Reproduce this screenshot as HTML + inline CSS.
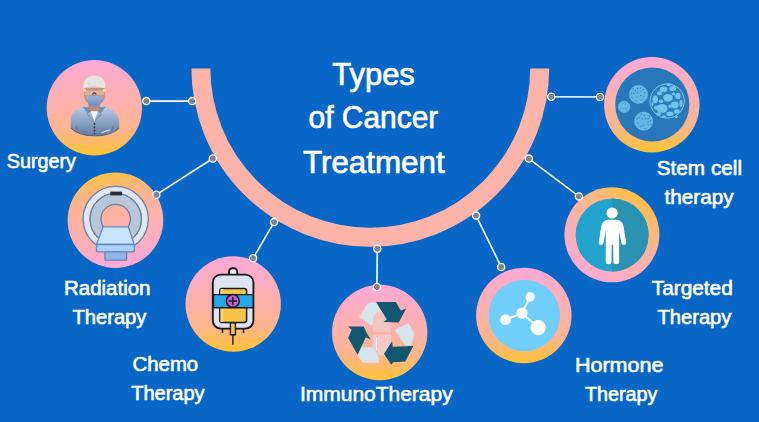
<!DOCTYPE html>
<html><head><meta charset="utf-8">
<style>
html,body{margin:0;padding:0;width:759px;height:422px;overflow:hidden;background:#0866C6;}
svg{display:block;}
text{font-family:"Liberation Sans",sans-serif;fill:#fff;stroke:#fff;}
</style></head><body>
<svg width="759" height="422" viewBox="0 0 759 422">
<defs>
 <linearGradient id="gPY" x1="0" y1="0" x2="0" y2="1">
  <stop offset="0" stop-color="#FCA9D6"/>
  <stop offset="0.52" stop-color="#FEB2A6"/>
  <stop offset="0.74" stop-color="#FEB58C"/>
  <stop offset="1" stop-color="#FFC332"/>
 </linearGradient>
 <linearGradient id="gYP" x1="0.3" y1="0" x2="0.5" y2="1">
  <stop offset="0" stop-color="#FFC338"/>
  <stop offset="0.25" stop-color="#FEB48C"/>
  <stop offset="0.5" stop-color="#FEB2A6"/>
  <stop offset="1" stop-color="#FCA9D8"/>
 </linearGradient>
 <linearGradient id="gDiag" x1="0.8" y1="0.02" x2="0.2" y2="0.98">
  <stop offset="0" stop-color="#FFC232"/>
  <stop offset="0.22" stop-color="#FEB970"/>
  <stop offset="0.5" stop-color="#FDB2A6"/>
  <stop offset="1" stop-color="#FCA9D6"/>
 </linearGradient>
 <linearGradient id="gCoat" x1="0" y1="0" x2="0" y2="1">
  <stop offset="0" stop-color="#BCCCE4"/>
  <stop offset="0.4" stop-color="#96ACCC"/>
  <stop offset="1" stop-color="#637CA4"/>
 </linearGradient>
 <linearGradient id="gMask" x1="0" y1="0" x2="0" y2="1">
  <stop offset="0" stop-color="#95B1DE"/>
  <stop offset="1" stop-color="#6A8AC2"/>
 </linearGradient>
</defs>
<rect width="759" height="422" fill="#0866C6"/>
<!-- arc -->
<clipPath id="clipArc"><rect x="0" y="68.5" width="759" height="360"/></clipPath>
<circle cx="370.3" cy="67.8" r="169.45" fill="none" stroke="#FDB4A8" stroke-width="19" clip-path="url(#clipArc)"/>
<!-- connectors -->
<g stroke="#fff" stroke-width="1.6">
 <line x1="146.3" y1="101.1" x2="192.1" y2="101.1"/>
 <line x1="156.4" y1="194.7" x2="212.8" y2="158.5"/>
 <line x1="253.1" y1="258.3" x2="274.1" y2="222.1"/>
 <line x1="376.9" y1="287" x2="377.3" y2="248.7"/>
 <line x1="476.1" y1="215.6" x2="501.2" y2="267"/>
 <line x1="528.8" y1="158.6" x2="578.9" y2="196.4"/>
 <line x1="551.3" y1="96.7" x2="600" y2="97"/>
</g>
<!-- circles -->
<circle cx="94.35" cy="107.7" r="47.7" fill="url(#gPY)"/>
<circle cx="115.45" cy="220.2" r="47.8" fill="url(#gYP)"/>
<circle cx="233.2" cy="304" r="47.7" fill="url(#gPY)"/>
<circle cx="379.7" cy="332.5" r="47.7" fill="url(#gPY)"/>
<circle cx="523.8" cy="315.5" r="47.7" fill="url(#gPY)"/>
<circle cx="524.3" cy="315.5" r="35.8" fill="#70CFFD"/>
<circle cx="611.9" cy="234.8" r="47.5" fill="url(#gDiag)"/>
<circle cx="651.8" cy="104.7" r="47.7" fill="url(#gPY)"/>
<circle cx="652.3" cy="104.5" r="37.1" fill="#2877B9"/>

<!-- surgeon -->
<g>
 <path d="M82.2,106.6 C76,109 72.3,112 71.4,117 C70.7,121 70.5,125 70.8,127.8 C76,133.2 85,135.8 94.5,135.8 C104,135.8 114,133.2 119.2,127.8 C119.4,124 119.2,119.5 117.7,116 C116.2,111.5 111,108.6 105.9,106.6 Z" fill="url(#gCoat)"/>
 <path d="M70.8,127.8 C76,133.2 85,135.8 94.5,135.8 C104,135.8 114,133.2 119.2,127.8" fill="none" stroke="#55688C" stroke-width="1.1"/>
 <path d="M76.5,125.5 L77,131 M112.5,125.5 L112,131" stroke="#5E7298" stroke-width="0.8"/>
 <rect x="88.4" y="103" width="11.8" height="8.5" fill="#BE8E70"/>
 <polygon points="90.7,111.2 97.8,111.2 94.3,121.3" fill="#F6F7F9"/>
 <polygon points="82.2,106.6 88.5,107.5 90.7,111.4 86.5,114.2 94.1,121.5" fill="#758BAB"/>
 <polygon points="105.9,106.6 100,107.5 97.8,111.4 102.1,114.2 94.4,121.5" fill="#758BAB"/>
 <circle cx="94.5" cy="123.8" r="0.9" fill="#1C2430"/>
 <circle cx="94.5" cy="127.5" r="0.9" fill="#1C2430"/>
 <circle cx="94.5" cy="130.6" r="0.9" fill="#1C2430"/>
 <circle cx="94.5" cy="133.6" r="0.8" fill="#1C2430"/>
 <line x1="101.6" y1="132.7" x2="110.1" y2="129.8" stroke="#E6ECF4" stroke-width="1.1"/>
 <path d="M84.1,88 L105,88 L105,96 Q104.5,102 99,104.5 L90,104.5 Q84.5,102 84.1,96 Z" fill="#C4937A"/>
 <path d="M84.5,90.4 L104.4,90.4 L104.2,94.6 Q100,96.4 96.5,94.6 L95.2,93 L93.6,93 L92.3,94.6 Q88.5,96.4 84.8,94.6 Z" fill="#DDBBAA" opacity="0.85"/>
 <path d="M92.6,94.5 Q94.4,91 96.3,94.5" fill="none" stroke="#1F3C8C" stroke-width="1.2"/>
 <circle cx="84.7" cy="90.4" r="1.3" fill="#F2EC8A"/>
 <circle cx="104.1" cy="90.4" r="1.3" fill="#F2EC8A"/>
 <path d="M86.5,96.3 L102.7,96.3 L102.3,101.5 Q99,107.1 94.6,107.1 Q90.2,107.1 86.9,101.5 Z" fill="url(#gMask)"/>
 <path d="M83.4,89 C82.8,80 87.5,75.6 94.4,75.6 C101.3,75.6 106,80 105.4,89 Q103,86.8 94.4,86.6 Q85.8,86.8 83.4,89 Z" fill="#E6E6E6" stroke="#CFCFCF" stroke-width="0.5"/>
 <path d="M87,80 Q90,82 89,85 M93,78 Q96,81 94,84 M99,79 Q101,82 100,85 M86,84 Q89,83 91,85 M96,82 Q99,83 102,82" fill="none" stroke="#D4D4D4" stroke-width="0.4"/>
</g>

<!-- MRI -->
<g stroke="#6C7FA2" stroke-width="1.3" stroke-linejoin="round">
 <path d="M83.1,219 A32.6,32.6 0 1 0 148.3,219 A32.6,32.6 0 1 0 83.1,219 Z M90.1,219 A25.6,25.6 0 1 1 141.3,219 A25.6,25.6 0 1 1 90.1,219 Z" fill="#DFE7F1" fill-rule="evenodd"/>
 <path d="M90.1,219 A25.6,25.6 0 1 0 141.3,219 A25.6,25.6 0 1 0 90.1,219 Z M101.0,219 A14.7,14.7 0 1 1 130.4,219 A14.7,14.7 0 1 1 101.0,219 Z" fill="#B8C8DA" fill-rule="evenodd"/>
 <polygon points="103,226.8 128.3,226.8 134.3,244.5 96.5,244.5" fill="#C6E5FD" stroke="#6A86BC"/>
 <rect x="96.5" y="244.5" width="37.8" height="7.3" rx="1" fill="#A9D3FA" stroke="#6A86BC"/>
 <rect x="105" y="251.8" width="21.6" height="8.3" fill="#8FB5EE" stroke="#6A86BC"/>
</g>
<rect x="110.3" y="191.6" width="11.7" height="3.8" fill="#262E3C"/>

<!-- IV bag -->
<g stroke="#1A1A1E" stroke-width="1.9" stroke-linejoin="round" stroke-linecap="round">
 <rect x="229" y="268.2" width="8.2" height="8.5" rx="3.5" fill="#F0F2F6"/>
 <path d="M222.5,327 L222.5,332.5 M243.5,327 L243.5,332.5" fill="none" stroke-width="1.6"/>
 <rect x="212.8" y="274.6" width="40.6" height="54" rx="8" fill="#DDE4F2"/>
 <rect x="219.8" y="288.4" width="26.8" height="34" rx="2.5" fill="#F9C548" stroke-width="1.5"/>
 <rect x="220.5" y="289" width="3" height="33" fill="#FBD56A" stroke="none"/>
 <rect x="213.4" y="294.6" width="39.8" height="13.2" fill="#21A8E8" stroke-width="1.4"/>
 <circle cx="232.8" cy="300.9" r="6.4" fill="#C35DD3" stroke-width="1.5"/>
 <path d="M232.8,297.4 L232.8,304.4 M229.3,300.9 L236.3,300.9" stroke-width="1.5"/>
 <rect x="230.4" y="322.8" width="5" height="12" fill="#F9C548" stroke-width="1.4"/>
 <line x1="232.9" y1="335" x2="232.9" y2="344.3" stroke-width="1.4"/>
</g>

<!-- recycle -->
<g>
 <polygon points="359,316.9 367.4,303.5 372.4,302.2 376.4,303 384.9,317.9 371.4,325.4" fill="#D6E4EE"/>
 <polygon points="361,347.2 372.7,347.2 378.6,356.8 378.6,362.7 362.6,362.7 357.8,355.2" fill="#D6E4EE"/>
 <polygon points="394.6,330.1 408.5,323.2 414.4,333.9 411.2,345.6 405.3,345.6" fill="#D6E4EE"/>
 <path d="M373,331.7 L373,320 A8.9,8.9 0 0 1 390.8,320 L390.8,331.7 Z" fill="#F5C5C4"/>
 <path d="M373.3,334.9 L390.9,334.9 L390.9,346.4 A8.8,8.8 0 0 1 373.3,346.4 Z" fill="#F6C8C7" stroke="#F9D4D2" stroke-width="0.6"/>
 <line x1="376.4" y1="337" x2="376.4" y2="350.5" stroke="#FFFFFF" stroke-width="0.9"/>
 <polygon points="376.1,302 395.8,302 400.8,310.4 406.2,308.4 398.8,322.4 383.4,321.9 386.8,319.4" fill="#0F5870"/>
 <polygon points="348,326.4 363.7,326.4 366.9,333.3 370.8,339.7 365.8,337.3 357.6,354.7 348.2,338.1 351.6,329.8" fill="#0F5870"/>
 <polygon points="392,341.3 392.8,346.7 413.3,346.1 405.3,361.6 393,362.2 391.4,364.8 384,354.1" fill="#0F5870"/>
</g>

<!-- molecule -->
<g fill="#fff" stroke="#fff" stroke-width="2">
 <line x1="522" y1="313.1" x2="530.2" y2="296.9"/>
 <line x1="522" y1="313.1" x2="505.5" y2="319.7"/>
 <line x1="522" y1="313.1" x2="538.2" y2="327.6"/>
 <circle cx="522" cy="313.1" r="5.6" stroke="none"/>
 <circle cx="530.2" cy="296.9" r="4.6" stroke="none"/>
 <circle cx="505.5" cy="319.7" r="5.4" stroke="none"/>
 <circle cx="538.2" cy="327.6" r="7.6" stroke="none"/>
</g>

<!-- person -->
<circle cx="612.1" cy="235" r="36.5" fill="#22A4CE"/>
<path d="M612.1,198.5 A36.5,36.5 0 0 1 612.1,271.5 Z" fill="#2B93B2"/>
<circle cx="612.1" cy="213" r="5.6" fill="#fff"/>
<path d="M608,219.8 L616.8,219.8 Q621.8,220.2 623.4,225.5 L626.1,242.3 Q626.3,245.1 623.8,245.1 Q621.5,245.1 621.2,242.6 L619.3,231.5 L619.1,231.5 L619.1,262 Q619.1,264.2 616.3,264.2 Q613.5,264.2 613.4,262 L613.1,244.5 L611.7,244.5 L611.4,262 Q611.3,264.2 608.6,264.2 Q605.8,264.2 605.8,262 L605.8,231.5 L605.5,231.5 L603.6,242.6 Q603.3,245.1 601,245.1 Q598.5,245.1 598.7,242.3 L601.4,225.5 Q603,220.2 608,219.8 Z" fill="#fff"/>

<!-- stem cells -->
<g>
 <circle cx="667.2" cy="101" r="17.1" fill="#2B7FBE" stroke="#7CCBF0" stroke-width="1"/>
 <g fill="#72C4EC">
  <ellipse cx="662" cy="108.3" rx="5.6" ry="4.4"/>
  <ellipse cx="668" cy="97.8" rx="4.8" ry="3.8"/>
  <ellipse cx="674.8" cy="105" rx="3.8" ry="3.4"/>
  <ellipse cx="663.5" cy="89.3" rx="3.8" ry="2.8"/>
  <ellipse cx="672.8" cy="88.5" rx="3.4" ry="2.5"/>
  <ellipse cx="678" cy="96" rx="2.6" ry="3.2"/>
  <ellipse cx="655.3" cy="99.3" rx="2.7" ry="3.9"/>
  <ellipse cx="659.5" cy="93.2" rx="2.5" ry="2"/>
  <ellipse cx="681" cy="103.5" rx="1.6" ry="3.4"/>
  <ellipse cx="670" cy="113.8" rx="3.6" ry="2.3"/>
  <ellipse cx="656" cy="107.8" rx="2.1" ry="2.1"/>
  <ellipse cx="677" cy="111.5" rx="2.8" ry="2.2"/>
  <ellipse cx="661" cy="101.3" rx="2.2" ry="1.9"/>
  <ellipse cx="658.8" cy="114" rx="2.4" ry="1.8"/>
  <ellipse cx="670.2" cy="106.2" rx="2" ry="1.8"/>
  <ellipse cx="673.5" cy="94" rx="1.8" ry="1.5"/>
  <ellipse cx="664" cy="116.5" rx="2" ry="1.2"/>
  <ellipse cx="668.5" cy="84.8" rx="2.2" ry="1.2"/>
  <ellipse cx="676.5" cy="117" rx="1.6" ry="1.1"/>
  <ellipse cx="652.5" cy="104" rx="1.1" ry="2"/>
 </g>
 <g fill="#62B6E4" stroke="#7CCBF0" stroke-width="0.5">
  <circle cx="638.5" cy="94.4" r="9.1"/>
  <circle cx="643.6" cy="121.2" r="9.1"/>
  <circle cx="624.1" cy="106.8" r="5.7"/>
 </g>
 <g fill="#3580C0">
  <circle cx="637.1" cy="97.1" r="0.7"/><circle cx="637.3" cy="92.7" r="0.7"/><circle cx="633.8" cy="93.3" r="0.7"/><circle cx="643.8" cy="96.4" r="0.7"/><circle cx="640.7" cy="95.4" r="0.7"/><circle cx="632.1" cy="97.7" r="0.7"/><circle cx="633.1" cy="88.9" r="0.7"/><circle cx="641.2" cy="91.1" r="0.7"/><circle cx="635.9" cy="101.1" r="0.7"/><circle cx="641.0" cy="99.9" r="0.7"/><circle cx="635.4" cy="90.7" r="0.7"/><circle cx="640.3" cy="88.1" r="0.7"/><circle cx="631.2" cy="93.2" r="0.7"/><circle cx="644.8" cy="92.5" r="0.7"/><circle cx="643.5" cy="89.4" r="0.7"/><circle cx="637.6" cy="88.6" r="0.7"/><circle cx="641.0" cy="126.3" r="0.7"/><circle cx="637.0" cy="118.8" r="0.7"/><circle cx="648.2" cy="124.9" r="0.7"/><circle cx="643.6" cy="125.4" r="0.7"/><circle cx="644.4" cy="115.6" r="0.7"/><circle cx="648.1" cy="118.5" r="0.7"/><circle cx="639.3" cy="117.6" r="0.7"/><circle cx="638.1" cy="122.9" r="0.7"/><circle cx="641.3" cy="114.2" r="0.7"/><circle cx="645.2" cy="118.7" r="0.7"/><circle cx="642.0" cy="118.7" r="0.7"/><circle cx="649.4" cy="116.0" r="0.7"/><circle cx="645.1" cy="128.8" r="0.7"/><circle cx="650.8" cy="120.7" r="0.7"/><circle cx="648.1" cy="121.7" r="0.7"/><circle cx="650.8" cy="124.3" r="0.7"/><circle cx="625.2" cy="102.5" r="0.5"/><circle cx="625.9" cy="108.2" r="0.5"/><circle cx="627.9" cy="107.8" r="0.5"/><circle cx="623.9" cy="108.4" r="0.5"/><circle cx="620.3" cy="108.8" r="0.5"/><circle cx="625.1" cy="104.7" r="0.5"/><circle cx="626.6" cy="110.3" r="0.5"/>
 </g>
</g>

<!-- dots -->
<g fill="#7C8291" stroke="#fff" stroke-width="1.3">
 <circle cx="146.3" cy="101.1" r="3.6"/>
 <circle cx="192.1" cy="101.1" r="3.6"/>
 <circle cx="156.4" cy="194.7" r="3.6"/>
 <circle cx="212.8" cy="158.5" r="3.6"/>
 <circle cx="253.1" cy="258.3" r="3.6"/>
 <circle cx="274.1" cy="222.1" r="3.6"/>
 <circle cx="376.9" cy="287" r="3.6"/>
 <circle cx="377.3" cy="248.7" r="3.6"/>
 <circle cx="476.1" cy="215.6" r="3.6"/>
 <circle cx="501.2" cy="267" r="3.6"/>
 <circle cx="528.8" cy="158.6" r="3.6"/>
 <circle cx="578.9" cy="196.4" r="3.6"/>
 <circle cx="551.3" cy="96.7" r="3.6"/>
 <circle cx="600" cy="97" r="3.6"/>
</g>
<!-- text -->
<g>
 <text x="332.2" y="85.0" font-size="30.7" stroke-width="0.7" textLength="82.68" lengthAdjust="spacingAndGlyphs">Types</text>
 <text x="308.62" y="128.3" font-size="30.7" stroke-width="0.7" textLength="129.63" lengthAdjust="spacingAndGlyphs">of Cancer</text>
 <text x="303.0" y="172.8" font-size="30.7" stroke-width="0.7" textLength="141.71" lengthAdjust="spacingAndGlyphs">Treatment</text>
 <text x="6.81" y="167.6" font-size="20.3" stroke-width="0.6" textLength="69.21" lengthAdjust="spacingAndGlyphs">Surgery</text>
 <text x="63.98" y="295.0" font-size="20.3" stroke-width="0.6" textLength="86.52" lengthAdjust="spacingAndGlyphs">Radiation</text>
 <text x="72.4" y="324.0" font-size="20.3" stroke-width="0.6" textLength="74.02" lengthAdjust="spacingAndGlyphs">Therapy</text>
 <text x="132.58" y="371.0" font-size="20.3" stroke-width="0.6" textLength="65.61" lengthAdjust="spacingAndGlyphs">Chemo</text>
 <text x="131.2" y="399.8" font-size="20.3" stroke-width="0.6" textLength="73.43" lengthAdjust="spacingAndGlyphs">Therapy</text>
 <text x="299.96" y="400.8" font-size="20.3" stroke-width="0.6" textLength="152.7" lengthAdjust="spacingAndGlyphs">ImmunoTherapy</text>
 <text x="574.92" y="371.8" font-size="20.3" stroke-width="0.6" textLength="88.53" lengthAdjust="spacingAndGlyphs">Hormone</text>
 <text x="585.0" y="400.5" font-size="20.3" stroke-width="0.6" textLength="72.43" lengthAdjust="spacingAndGlyphs">Therapy</text>
 <text x="651.8" y="294.9" font-size="20.3" stroke-width="0.6" textLength="80.98" lengthAdjust="spacingAndGlyphs">Targeted</text>
 <text x="657.4" y="324.0" font-size="20.3" stroke-width="0.6" textLength="74.02" lengthAdjust="spacingAndGlyphs">Therapy</text>
 <text x="656.77" y="174.8" font-size="20.3" stroke-width="0.6" textLength="85.23" lengthAdjust="spacingAndGlyphs">Stem cell</text>
 <text x="664.6" y="203.6" font-size="20.3" stroke-width="0.6" textLength="69.05" lengthAdjust="spacingAndGlyphs">therapy</text>
</g>
</svg>
</body></html>
